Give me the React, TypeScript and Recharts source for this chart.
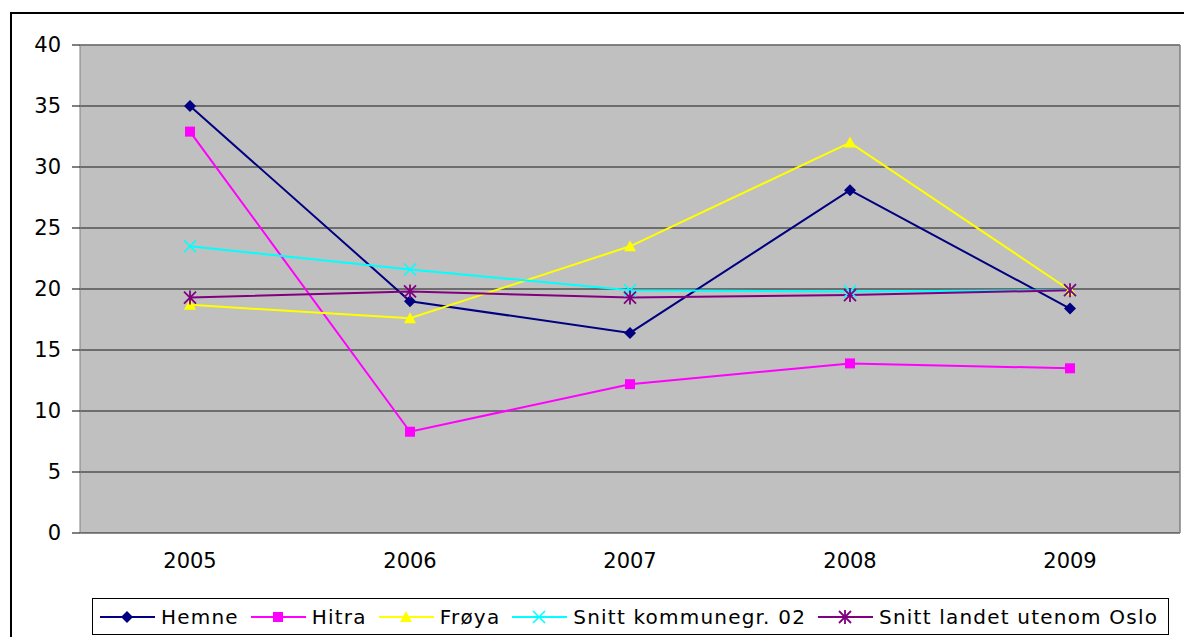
import {
  LineChart,
  Line,
  XAxis,
  YAxis,
  CartesianGrid,
  Legend,
  ReferenceLine,
} from "recharts";

const years = [2005, 2006, 2007, 2008, 2009];
const hemne = [35.0, 19.0, 16.4, 28.1, 18.4];
const hitra = [32.9, 8.3, 12.2, 13.9, 13.5];
const froya = [18.7, 17.6, 23.5, 32.0, 19.9];
const snittKommunegr = [23.5, 21.6, 19.9, 19.8, 19.9];
const snittLandet = [19.3, 19.8, 19.3, 19.5, 19.9];
const yTicks = [0, 5, 10, 15, 20, 25, 30, 35, 40];
const categoryBounds = [2004.5, 2005.5, 2006.5, 2007.5, 2008.5, 2009.5];

const data = years.map((year, i) => ({
  year,
  hemne: hemne[i],
  hitra: hitra[i],
  froya: froya[i],
  kommunegr: snittKommunegr[i],
  landet: snittLandet[i],
}));

type MarkerKind = "diamond" | "square" | "triangle" | "cross" | "star";

const series: { key: string; name: string; color: string; marker: MarkerKind }[] = [
  { key: "hemne", name: "Hemne", color: "#000080", marker: "diamond" },
  { key: "hitra", name: "Hitra", color: "#FF00FF", marker: "square" },
  { key: "froya", name: "Frøya", color: "#FFFF00", marker: "triangle" },
  { key: "kommunegr", name: "Snitt kommunegr. 02", color: "#00FFFF", marker: "cross" },
  { key: "landet", name: "Snitt landet utenom Oslo", color: "#800080", marker: "star" },
];

const FONT = "'DejaVu Sans', Arial, sans-serif";

function Marker({ kind, cx, cy, color }: { kind: MarkerKind; cx: number; cy: number; color: string }) {
  switch (kind) {
    case "diamond":
      return (
        <polygon
          points={`${cx},${cy - 6} ${cx + 6},${cy} ${cx},${cy + 6} ${cx - 6},${cy}`}
          fill={color}
        />
      );
    case "square":
      return <rect x={cx - 5} y={cy - 5} width={10} height={10} fill={color} />;
    case "triangle":
      return (
        <polygon
          points={`${cx},${cy - 6} ${cx + 6},${cy + 5} ${cx - 6},${cy + 5}`}
          fill={color}
        />
      );
    case "cross":
      return (
        <g stroke={color} strokeWidth={1.6}>
          <line x1={cx - 6} y1={cy - 6} x2={cx + 6} y2={cy + 6} />
          <line x1={cx - 6} y1={cy + 6} x2={cx + 6} y2={cy - 6} />
        </g>
      );
    case "star":
      return (
        <g stroke={color} strokeWidth={1.8}>
          <line x1={cx - 6} y1={cy - 6} x2={cx + 6} y2={cy + 6} />
          <line x1={cx - 6} y1={cy + 6} x2={cx + 6} y2={cy - 6} />
          <line x1={cx} y1={cy - 7} x2={cx} y2={cy + 7} />
        </g>
      );
  }
}

function makeDot(kind: MarkerKind, color: string) {
  return (props: any) => {
    const { cx, cy, index } = props;
    if (cx == null || cy == null) return <g key={index} />;
    return (
      <g key={index}>
        <Marker kind={kind} cx={cx} cy={cy} color={color} />
      </g>
    );
  };
}

function LegendBox() {
  return (
    <div
      style={{
        border: "1px solid #000",
        display: "flex",
        alignItems: "center",
        height: 35,
        padding: "0 10px 0 7px",
        background: "#fff",
        fontFamily: FONT,
        fontSize: 20,
        letterSpacing: 1.2,
        color: "#000",
        whiteSpace: "nowrap",
      }}
    >
      {series.map((s, i) => (
        <div
          key={s.key}
          style={{ display: "flex", alignItems: "center", marginLeft: i === 0 ? 0 : 12 }}
        >
          <svg width={55} height={20}>
            <line x1={0} y1={10} x2={55} y2={10} stroke={s.color} strokeWidth={2} />
            <Marker kind={s.marker} cx={27} cy={10} color={s.color} />
          </svg>
          <span style={{ marginLeft: 6 }}>{s.name}</span>
        </div>
      ))}
    </div>
  );
}

export default function App() {
  return (
    <div
      style={{
        position: "absolute",
        left: 10,
        top: 12,
        width: 1174,
        height: 625,
        borderTop: "2px solid #000",
        borderLeft: "2px solid #000",
        background: "#fff",
        overflow: "hidden",
      }}
    >
      <LineChart
        width={1172}
        height={623}
        data={data}
        margin={{ top: 31, right: 4, bottom: 64, left: 10 }}
        style={{ fontFamily: FONT }}
      >
        <CartesianGrid vertical={false} stroke="#1a1a1a" fill="#C0C0C0" fillOpacity={1} />
        <XAxis
          xAxisId="bounds"
          type="number"
          dataKey="year"
          domain={[2004.5, 2009.5]}
          ticks={categoryBounds}
          tick={false}
          tickSize={8}
          height={0}
          stroke="#000"
          axisLine={{ stroke: "#000" }}
          tickLine={{ stroke: "#000" }}
        />
        <XAxis
          xAxisId="labels"
          type="number"
          dataKey="year"
          domain={[2004.5, 2009.5]}
          ticks={years}
          axisLine={false}
          tickLine={false}
          tickSize={0}
          tickMargin={20}
          height={40}
          tick={{ fill: "#000", fontSize: 21, fontFamily: FONT }}
        />
        <YAxis
          domain={[0, 40]}
          ticks={yTicks}
          width={58}
          tickSize={8}
          tickMargin={11}
          axisLine={{ stroke: "#808080" }}
          tickLine={{ stroke: "#000" }}
          tick={{ fill: "#000", fontSize: 21, fontFamily: FONT }}
        />
        <ReferenceLine xAxisId="bounds" y={40} stroke="#808080" strokeWidth={1.5} />
        <ReferenceLine xAxisId="bounds" x={2009.5} stroke="#808080" strokeWidth={1.5} />
        <Legend
          layout="horizontal"
          verticalAlign="middle"
          align="center"
          content={() => <LegendBox />}
          wrapperStyle={{ left: 80, top: 584, width: "auto", height: "auto" }}
        />
        {series.map((s) => (
          <Line
            key={s.key}
            xAxisId="bounds"
            type="linear"
            dataKey={s.key}
            name={s.name}
            stroke={s.color}
            strokeWidth={2}
            dot={makeDot(s.marker, s.color)}
            activeDot={false}
            isAnimationActive={false}
          />
        ))}
      </LineChart>
    </div>
  );
}
